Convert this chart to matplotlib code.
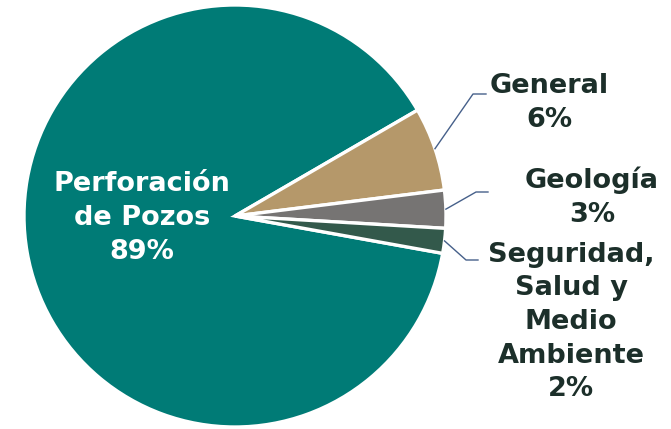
import matplotlib.pyplot as plt
import numpy as np

# data
categories = ['Perforación\nde Pozos', 'General', 'Geología', 'Seguridad,\nSalud y\nMedio\nAmbiente']
shares = [88.8, 6.4, 2.9, 1.9]
pct_labels = ['89%', '6%', '3%', '2%']
colors = ['#007B76', '#B5986A', '#767473', '#33594B']

W, H = 671, 429
fig = plt.figure(figsize=(W / 100, H / 100), dpi=100)
ax = fig.add_axes([0, 0, 1, 1])

cx, cy, r = 235, H - 216, 211
wedges, _ = ax.pie(shares, colors=colors, startangle=-10.2, counterclock=False,
                   center=(cx, cy), radius=r, frame=True,
                   wedgeprops=dict(edgecolor='white', linewidth=2.4))
ax.set_xlim(0, W)
ax.set_ylim(0, H)
ax.set_aspect('equal')
ax.axis('off')

font = dict(family='DejaVu Sans', fontweight='bold', fontsize=19.5)
txt_dark = '#1C2F2A'
line_col = '#46608A'

# inside label
ax.text(142, H - 218, categories[0] + '\n' + pct_labels[0], color='white',
        ha='center', va='center', linespacing=1.38, **font)

# outside labels: (elbow point, line end, label centre)
outer = [((473, H - 94), (486, H - 94), (549, H - 103)),
         ((476, H - 192), (488, H - 192), (592, H - 197)),
         ((466, H - 260), (478, H - 260), (571, H - 322))]
for i, (elbow, end, lab) in enumerate(outer, start=1):
    w = wedges[i]
    mid = np.radians((w.theta1 + w.theta2) / 2)
    sx, sy = cx + r * np.cos(mid), cy + r * np.sin(mid)
    ax.plot([sx, elbow[0], end[0]], [sy, elbow[1], end[1]], color=line_col, lw=1)
    ax.text(lab[0], lab[1], categories[i] + '\n' + pct_labels[i], color=txt_dark,
            ha='center', va='center', linespacing=1.38, **font)

fig.savefig('out.png', dpi=100)
